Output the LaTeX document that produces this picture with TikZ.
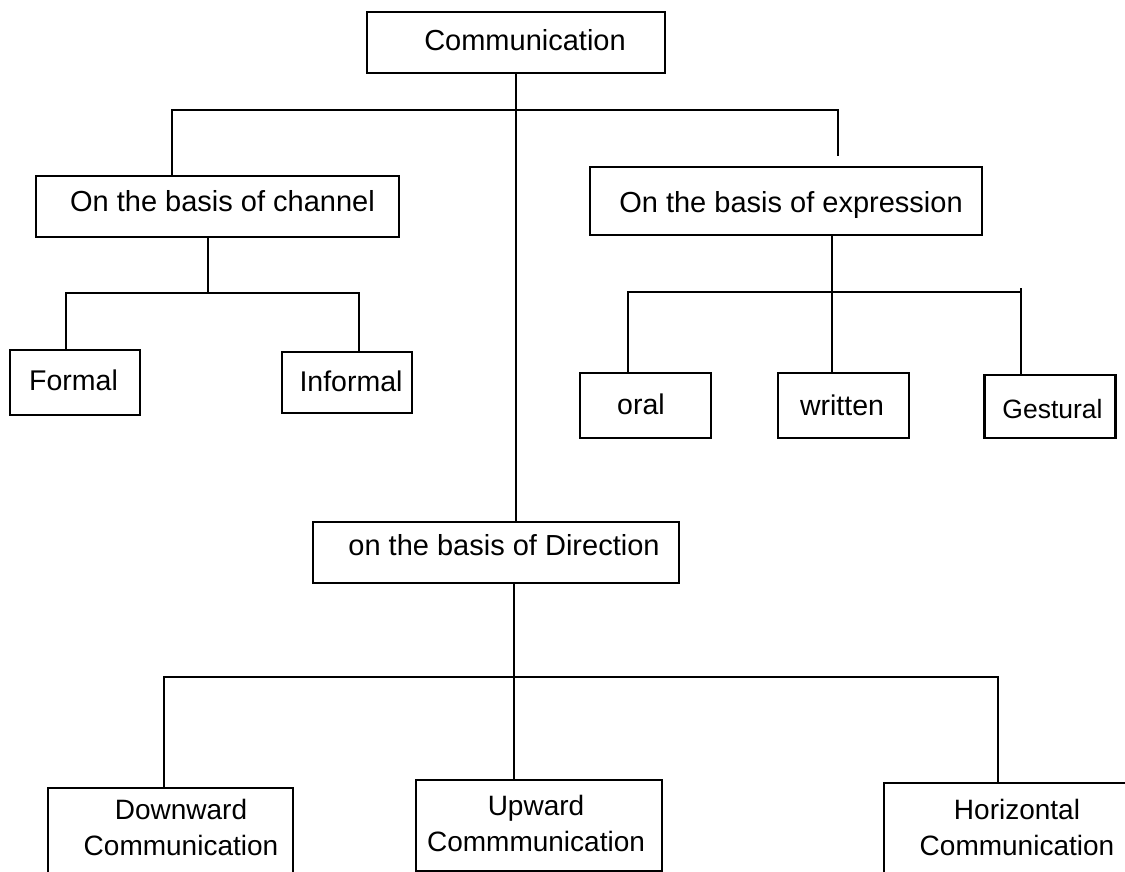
\documentclass[tikz,border=0pt]{standalone}
\usepackage{fontspec}
\setmainfont{Liberation Sans}
\newcommand{\tb}[3]{\raisebox{#2}[0pt][0pt]{\makebox[0pt]{\hspace*{#1}#3}}}
\tikzset{
  box/.style={draw, rectangle, line width=2.9pt, inner sep=0pt, text height=0pt, text depth=0pt},
  conn/.style={line width=2.6pt},
  fa/.style={font=\fontsize{29}{35}\selectfont},
  fb/.style={font=\fontsize{28.5}{35}\selectfont},
  fg/.style={font=\fontsize{26.5}{35}\selectfont},
  fd/.style={font=\fontsize{28}{36}\selectfont},
}
\begin{document}
\begin{tikzpicture}[x=1pt,y=-1pt]
\useasboundingbox (0,0) rectangle (1125,872);
\clip (0,0) rectangle (1125,872);
\fill[white] (0,0) rectangle (1125,872);

% nodes
\node[box, fa, minimum width=298pt, minimum height=61pt] (comm) at (516,42.5) {\tb{18pt}{-8.5pt}{Communication}};
\node[box, fa, minimum width=363pt, minimum height=61pt] (chan) at (217.5,206.5) {\tb{10pt}{-5.5pt}{On the basis of channel}};
\node[box, fa, minimum width=392pt, minimum height=68pt] (expr) at (786,201) {\tb{10pt}{-11pt}{On the basis of expression}};
\node[box, fa, minimum width=366pt, minimum height=61pt] (dir) at (496,552.5) {\tb{16pt}{-2.5pt}{on the basis of Direction}};

\node[box, fb, minimum width=130pt, minimum height=65pt] (formal) at (75,382.5) {\tb{-3pt}{-7.5pt}{Formal}};
\node[box, fb, minimum width=130pt, minimum height=61pt] (informal) at (347,382.5) {\tb{8pt}{-9pt}{Informal}};
\node[box, fb, minimum width=131pt, minimum height=65pt] (oral) at (645.5,405.5) {\tb{-9pt}{-9.3pt}{oral}};
\node[box, fb, minimum width=131pt, minimum height=65pt] (written) at (843.5,405.5) {\tb{-3pt}{-10pt}{written}};
\node[box, fg, minimum width=130.5pt, minimum height=63pt] (gest) at (1050,406.5) {\tb{5pt}{-12pt}{Gestural}};

\node[box, fd, minimum width=245pt, minimum height=102pt] (down) at (170.5,839) {\tb{21pt}{20pt}{\begin{tabular}[t]{@{}c@{}}Downward\\Communication\end{tabular}}};
\node[box, fd, minimum width=246pt, minimum height=91pt] (up) at (539,825.5) {\tb{-6pt}{10.5pt}{\begin{tabular}[t]{@{}c@{}}Upward\\Commmunication\end{tabular}}};
\node[box, fd, minimum width=266pt, minimum height=107pt] (horiz) at (1017,836.5) {\tb{0pt}{17.5pt}{\begin{tabular}[t]{@{}c@{}}Horizontal\\Communication\end{tabular}}};

% junction coordinates
\coordinate (tl) at (172,110);
\coordinate (tr) at (838,110);
\coordinate (tre) at (838,156);
\coordinate (cl) at (66,293);
\coordinate (cm) at (208,293);
\coordinate (cr) at (359,293);
\coordinate (el) at (628,292);
\coordinate (em) at (832,292);
\coordinate (er) at (1021,292);
\coordinate (ert) at (1021,288);
\coordinate (dl) at (164,677);
\coordinate (dm) at (514,677);
\coordinate (dr) at (998,677);

% connectors
\draw[conn] (comm.south) -- (comm.south |- dir.north);
\draw[conn] (tl |- chan.north) -- (tl) -- (tr) -- (tre);

\draw[conn] (cm |- chan.south) -- (cm);
\draw[conn] (cl |- formal.north) -- (cl) -- (cr) -- (cr |- informal.north);

\draw[conn] (em |- expr.south) -- (em) -- (em |- written.north);
\draw[conn] (el |- oral.north) -- (el) -- (er);
\draw[conn] (ert) -- (er |- gest.north);

\draw[conn] (dm |- dir.south) -- (dm |- up.north);
\draw[conn] (dl |- down.north) -- (dl) -- (dr) -- (dr |- horiz.north);
\end{tikzpicture}
\end{document}
